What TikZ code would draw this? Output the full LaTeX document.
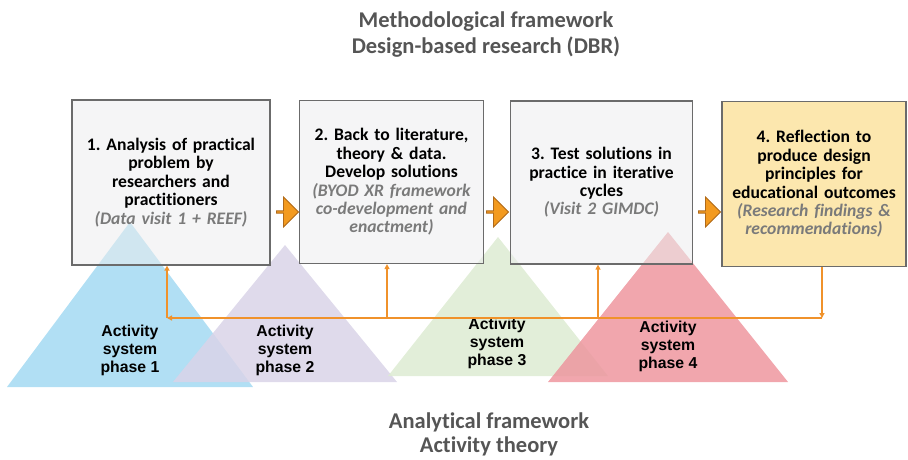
\documentclass[tikz,border=0pt]{standalone}
\usepackage{fontspec}
\setmainfont{Carlito}[Ligatures=NoCommon]
\newfontfamily\arialbf{Liberation Sans}[BoldFont={* Bold}]
\usetikzlibrary{shapes.arrows,arrows.meta}
\definecolor{boxgray}{HTML}{ECEDEE}
\definecolor{boxline}{HTML}{6B6B6B}
\definecolor{boxyellow}{HTML}{FBE3A0}
\definecolor{flow}{HTML}{F0922B}
\definecolor{arrowfill}{HTML}{F39A1F}
\definecolor{arrowline}{HTML}{B06A1A}
\definecolor{titlegray}{HTML}{555555}
\definecolor{notegray}{HTML}{7A7A7A}
\definecolor{phaseblue}{HTML}{A3D9F2}
\definecolor{phaselilac}{HTML}{D9D4E8}
\definecolor{phasegreen}{HTML}{DDEBD2}
\definecolor{phasered}{HTML}{EE979F}
\newcommand{\note}[1]{{\color{notegray}\itshape #1}}
\frenchspacing
\begin{document}
\begin{tikzpicture}[x=1pt,y=-1pt,
    phase/.style={fill opacity=0.85},
    stage/.style={draw=boxline,line width=1.2pt,fill=boxgray,fill opacity=0.55,
      text opacity=1,align=center,font=\fontsize{17.6}{18.4}\selectfont\bfseries,
      inner sep=2pt},
    phaselabel/.style={align=center,font=\fontsize{15.8}{18}\selectfont\arialbf\bfseries},
    gap/.style={single arrow,draw=arrowline,fill=arrowfill,line width=0.8pt,
      minimum height=22pt,minimum width=30pt,single arrow head extend=5pt,inner sep=0pt},
    link/.style={draw=flow,line width=1.8pt,-{Triangle[length=5pt,width=5pt]}},
    heading/.style={align=center,text=titlegray,font=\bfseries}]
  \useasboundingbox (0,0) rectangle (908,460);
  \node[heading,font=\fontsize{22.5}{26}\selectfont\bfseries] (top) at (486,35)
    {Methodological framework\\Design-based research (DBR)};
  \node[heading,font=\fontsize{22.5}{24}\selectfont\bfseries] (bottom) at (489,434)
    {Analytical framework\\Activity theory};
  \fill[phase,phaseblue] (130,222) -- (253,387) -- (7,387) -- cycle;
  \fill[phase,phaselilac] (285,245) -- (397,382) -- (173,382) -- cycle;
  \fill[phase,phasegreen] (498,237) -- (608,376) -- (388,376) -- cycle;
  \fill[phase,phasered] (668,232) -- (788,382) -- (548,382) -- cycle;
  \node[stage,minimum width=198pt,minimum height=165pt,text width=194pt] (1)
    at (171,182.5) {1. Analysis of practical\\problem by\\researchers and\\practitioners\\
    \note{(Data visit 1 + REEF)}};
  \node[stage,minimum width=183pt,minimum height=163pt,text width=180pt] (2)
    at (391.5,182) {2. Back to literature,\\theory \& data.\\Develop solutions\\
    \note{(BYOD XR framework}\\\note{co-development and}\\\note{enactment)}};
  \node[stage,minimum width=181pt,minimum height=163pt,text width=178pt] (3)
    at (601.5,182.5) {3. Test solutions in\\practice in iterative\\cycles\\
    \note{(Visit 2 GIMDC)}};
  \node[stage,fill=boxyellow,fill opacity=0.85,minimum width=182pt,minimum height=165pt,
    text width=180pt] (4)
    at (814,184) {4. Reflection to\\produce design\\principles for\\educational outcomes\\
    \note{(Research findings \&}\\\note{recommendations)}};
  \node[gap] (a1) at (287,212) {};
  \node[gap] (a2) at (497,212) {};
  \node[gap] (a3) at (709,212) {};
  \node[phaselabel] (p1) at (130,350) {Activity\\system\\phase 1};
  \node[phaselabel] (p2) at (285,350) {Activity\\system\\phase 2};
  \node[phaselabel] (p3) at (497,343) {Activity\\system\\phase 3};
  \node[phaselabel] (p4) at (668,346) {Activity\\system\\phase 4};
  \coordinate (j1) at (167,318);
  \coordinate (j2) at (387,318);
  \coordinate (j3) at (598,318);
  \coordinate (j4) at (822,318);
  \draw[link] (4.south -| j4) -- (j4);
  \draw[link] (j4) -- (j1);
  \draw[link] (j1) -- (j1 |- 1.south);
  \draw[link] (j2) -- (j2 |- 2.south);
  \draw[link] (j3) -- (j3 |- 3.south);
\end{tikzpicture}
\end{document}
